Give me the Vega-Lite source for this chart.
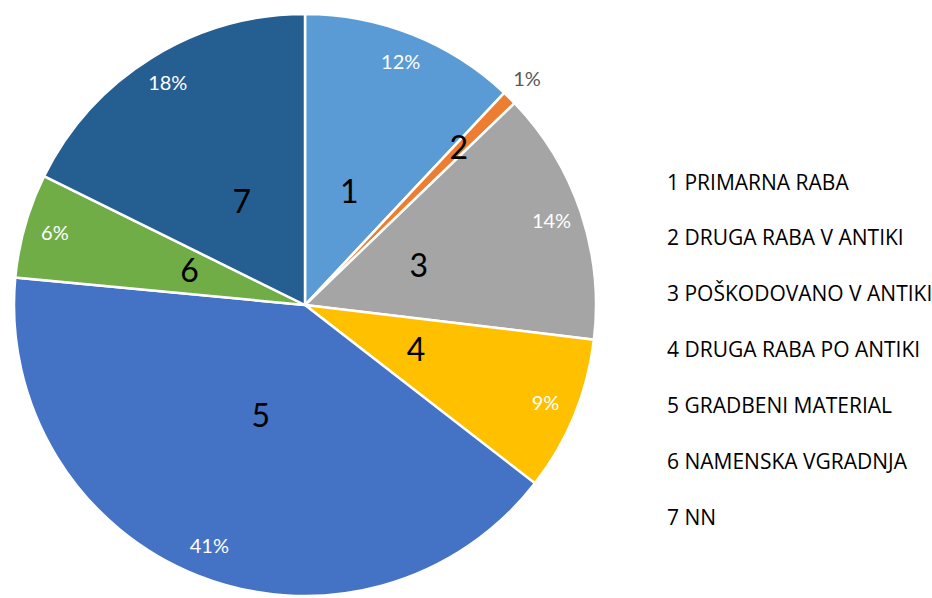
{
  "$schema": "https://vega.github.io/schema/vega-lite/v6.json",
  "width": 610,
  "height": 610,
  "padding": 0,
  "autosize": {"type": "pad"},
  "background": "white",
  "config": {"view": {"stroke": null}, "font": "Lato"},
  "data": {
    "values": [
      {"n": "1", "category": "1 PRIMARNA RABA", "share": 0.120},
      {"n": "2", "category": "2 DRUGA RABA V ANTIKI", "share": 0.008},
      {"n": "3", "category": "3 POŠKODOVANO V ANTIKI", "share": 0.141},
      {"n": "4", "category": "4 DRUGA RABA PO ANTIKI", "share": 0.086},
      {"n": "5", "category": "5 GRADBENI MATERIAL", "share": 0.410},
      {"n": "6", "category": "6 NAMENSKA VGRADNJA", "share": 0.058},
      {"n": "7", "category": "7 NN", "share": 0.177}
    ]
  },
  "encoding": {
    "theta": {"field": "share", "type": "quantitative", "stack": true},
    "order": {"field": "n", "type": "ordinal"}
  },
  "layer": [
    {
      "mark": {"type": "arc", "outerRadius": 291, "stroke": "white", "strokeWidth": 2.5},
      "encoding": {
        "color": {
          "field": "category",
          "type": "nominal",
          "sort": null,
          "scale": {
            "domain": ["1 PRIMARNA RABA", "2 DRUGA RABA V ANTIKI", "3 POŠKODOVANO V ANTIKI", "4 DRUGA RABA PO ANTIKI", "5 GRADBENI MATERIAL", "6 NAMENSKA VGRADNJA", "7 NN"],
            "range": ["#5B9BD5", "#ED7D31", "#A5A5A5", "#FFC000", "#4472C4", "#70AD47", "#255E91"]
          },
          "legend": {
            "title": null,
            "orient": "none",
            "legendX": 646,
            "legendY": 173,
            "symbolSize": 0,
            "symbolStrokeWidth": 0,
            "symbolOpacity": 0,
            "labelOffset": 0,
            "labelFont": "Open Sans",
            "labelFontSize": 21,
            "labelColor": "#000000",
            "labelLimit": 400,
            "rowPadding": 33.9
          }
        }
      }
    },
    {
      "mark": {
        "type": "text",
        "radius": {"expr": "datum.share < 0.02 ? 316 : 260"},
        "fontSize": 20,
        "font": "Lato"
      },
      "encoding": {
        "text": {"field": "share", "type": "quantitative", "format": ".0%"},
        "color": {
          "condition": {"test": "datum.share < 0.02", "value": "#595959"},
          "value": "#ffffff"
        }
      }
    },
    {
      "mark": {
        "type": "text",
        "radius": {"expr": "datum.share < 0.02 ? 219 : 120"},
        "fontSize": 32,
        "font": "Lato",
        "color": "#000000"
      },
      "encoding": {
        "text": {"field": "n", "type": "nominal"}
      }
    }
  ]
}
